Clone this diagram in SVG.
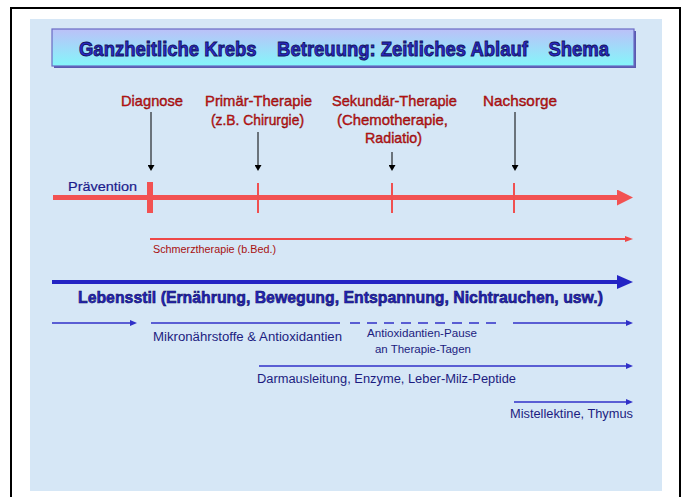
<svg xmlns="http://www.w3.org/2000/svg" width="685" height="497" viewBox="0 0 685 497">
<defs>
<linearGradient id="titleGrad" x1="0" y1="0" x2="0" y2="1">
<stop offset="0" stop-color="#bcc0f8"/>
<stop offset="1" stop-color="#84f6fa"/>
</linearGradient>
<marker id="hdRedBig" markerUnits="userSpaceOnUse" markerWidth="16" markerHeight="16" viewBox="0 0 16 16" refX="1" refY="8" orient="auto"><path d="M0,0 L16,8 L0,16 z" fill="#f25252"/></marker>
<marker id="hdRedSmall" markerUnits="userSpaceOnUse" markerWidth="8" markerHeight="6" viewBox="0 0 8 6" refX="1" refY="3" orient="auto"><path d="M0,0 L8,3 L0,6 z" fill="#ee4848"/></marker>
<marker id="hdBlueBig" markerUnits="userSpaceOnUse" markerWidth="16" markerHeight="14" viewBox="0 0 16 14" refX="1" refY="7" orient="auto"><path d="M0,0 L16,7 L0,14 z" fill="#2424c4"/></marker>
<marker id="hdBlueSmall" markerUnits="userSpaceOnUse" markerWidth="7" markerHeight="6" viewBox="0 0 7 6" refX="1" refY="3" orient="auto"><path d="M0,0 L7,3 L0,6 z" fill="#3030c8"/></marker>
<marker id="hdBlack" markerUnits="userSpaceOnUse" markerWidth="6" markerHeight="7" viewBox="0 0 6 7" refX="1" refY="3.5" orient="auto"><path d="M0,0 L6,3.5 L0,7 z" fill="#000"/></marker>
</defs>
<style>
text{font-family:"Liberation Sans",Arial,sans-serif;}
.title{font-size:21px;font-weight:bold;fill:#2a2ac8;stroke:#12125e;stroke-width:0.9;}
.red{font-size:15px;fill:#d01414;stroke:#7a0808;stroke-width:0.4;}
.redsm{font-size:10px;fill:#a81010;}
.blue{font-size:12px;fill:#1c1c80;}
.bluesm{font-size:11px;fill:#1c1c80;}
.prev{font-size:13px;fill:#1c1c8c;stroke:#1c1c8c;stroke-width:0.2;}
.life{font-size:17px;font-weight:bold;fill:#2424c0;stroke:#10105a;stroke-width:0.6;}
.blk{stroke:#000;stroke-width:1;fill:none;marker-end:url(#hdBlack);}
.tick{stroke:#f05050;stroke-width:2;}
.bthin{stroke:#3030c8;stroke-width:1.5;fill:none;}
</style>
<rect x="0" y="0" width="685" height="497" fill="#ffffff"/>
<rect x="11" y="8" width="669" height="500" fill="none" stroke="#000" stroke-width="2"/>
<rect x="30" y="19" width="632" height="472" fill="#d6e7f6"/>

<g id="title">
<rect x="54" y="31" width="582" height="37" fill="#5a5ab0"/>
<rect x="52" y="29" width="582" height="37" fill="url(#titleGrad)" stroke="#6a6ac4" stroke-width="1.2"/>
<text class="title" x="79" y="56" textLength="530" lengthAdjust="spacingAndGlyphs">Ganzheitliche Krebs&#160;&#160;&#160;&#160;Betreuung: Zeitliches Ablauf&#160;&#160;&#160;&#160;Shema</text>
</g>

<g id="connectors">
<line x1="53" y1="197.5" x2="618" y2="197.5" stroke="#f25252" stroke-width="5" marker-end="url(#hdRedBig)"/>
<rect x="147" y="182" width="6" height="31" fill="#f25252"/>
<line class="tick" x1="258" y1="183" x2="258" y2="213"/>
<line class="tick" x1="392" y1="183" x2="392" y2="213"/>
<line class="tick" x1="514" y1="183" x2="514" y2="213"/>
<line class="blk" x1="151" y1="112" x2="151" y2="166"/>
<line class="blk" x1="258" y1="132" x2="258" y2="166"/>
<line class="blk" x1="392" y1="152" x2="392" y2="166"/>
<line class="blk" x1="515" y1="112" x2="515" y2="166"/>
<line x1="150" y1="239" x2="626" y2="239" stroke="#ee4848" stroke-width="2" marker-end="url(#hdRedSmall)"/>
<line x1="52" y1="282" x2="618" y2="282" stroke="#2424c4" stroke-width="4" marker-end="url(#hdBlueBig)"/>
<line class="bthin" x1="52" y1="323" x2="131" y2="323" marker-end="url(#hdBlueSmall)"/>
<line class="bthin" x1="151" y1="323" x2="340" y2="323"/>
<line class="bthin" x1="350" y1="323" x2="502" y2="323" stroke-dasharray="10,7"/>
<line class="bthin" x1="513" y1="323" x2="627" y2="323" marker-end="url(#hdBlueSmall)"/>
<line class="bthin" x1="259" y1="366" x2="627" y2="366" marker-end="url(#hdBlueSmall)"/>
<line class="bthin" x1="514" y1="402" x2="627" y2="402" marker-end="url(#hdBlueSmall)"/>
</g>

<g id="diagnose"><text class="red" x="121" y="106" textLength="62" lengthAdjust="spacingAndGlyphs">Diagnose</text></g>
<g id="primaer">
<text class="red" x="205" y="106" textLength="107" lengthAdjust="spacingAndGlyphs">Primär-Therapie</text>
<text class="red" x="211" y="125" textLength="93" lengthAdjust="spacingAndGlyphs">(z.B. Chirurgie)</text>
</g>
<g id="sekundaer">
<text class="red" x="332" y="106" textLength="125" lengthAdjust="spacingAndGlyphs">Sekundär-Therapie</text>
<text class="red" x="337" y="125" textLength="111" lengthAdjust="spacingAndGlyphs">(Chemotherapie,</text>
<text class="red" x="365" y="143" textLength="57" lengthAdjust="spacingAndGlyphs">Radiatio)</text>
</g>
<g id="nachsorge"><text class="red" x="483" y="106" textLength="74" lengthAdjust="spacingAndGlyphs">Nachsorge</text></g>
<g id="praevention"><text class="prev" x="68" y="191" textLength="69" lengthAdjust="spacingAndGlyphs">Prävention</text></g>
<g id="schmerz"><text class="redsm" x="153" y="253" textLength="123" lengthAdjust="spacingAndGlyphs">Schmerztherapie (b.Bed.)</text></g>
<g id="lebensstil"><text class="life" x="78" y="303" textLength="525" lengthAdjust="spacingAndGlyphs">Lebensstil (Ernährung, Bewegung, Entspannung, Nichtrauchen, usw.)</text></g>
<g id="mikro"><text class="blue" x="153" y="341" textLength="189" lengthAdjust="spacingAndGlyphs">Mikronährstoffe &amp; Antioxidantien</text></g>
<g id="pause">
<text class="bluesm" x="367" y="337" textLength="110" lengthAdjust="spacingAndGlyphs">Antioxidantien-Pause</text>
<text class="bluesm" x="375" y="353" textLength="96" lengthAdjust="spacingAndGlyphs">an Therapie-Tagen</text>
</g>
<g id="darm"><text class="blue" x="257" y="383" textLength="259" lengthAdjust="spacingAndGlyphs">Darmausleitung, Enzyme, Leber-Milz-Peptide</text></g>
<g id="mistel"><text class="blue" x="510" y="418" textLength="123" lengthAdjust="spacingAndGlyphs">Mistellektine, Thymus</text></g>
</svg>
